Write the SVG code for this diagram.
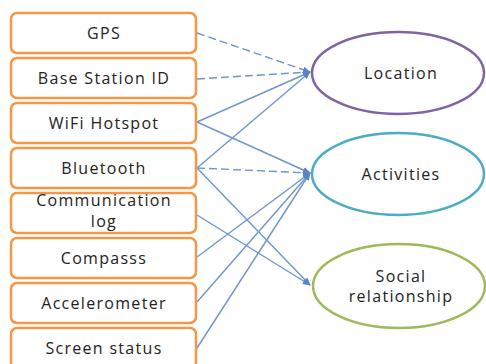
<svg xmlns="http://www.w3.org/2000/svg" width="486" height="364" viewBox="0 0 486 364">
<style>
.box{fill:#fff;stroke:#F79646;stroke-width:2.5}
.t{font-family:"Open Sans","Liberation Sans",sans-serif;font-size:16px;letter-spacing:1.3px;fill:#222;text-anchor:middle}
.c{stroke:#6E96CC;stroke-width:1.4;fill:none;marker-end:url(#ah)}
.d{stroke-dasharray:8 4}
</style>
<defs>
<marker id="ah" viewBox="0 0 10 10" refX="9" refY="5" markerWidth="8" markerHeight="8" markerUnits="userSpaceOnUse" orient="auto">
<path d="M0,1 L10,5 L0,9 Z" fill="#5B84C4"/>
</marker>
</defs>
<rect width="486" height="364" fill="#fff"/>
<g id="connectors">
<line class="c d" x1="197" y1="33" x2="310" y2="72"/>
<line class="c d" x1="197" y1="79" x2="310" y2="72"/>
<line class="c" x1="197" y1="122" x2="310" y2="72"/>
<line class="c" x1="197" y1="122" x2="310" y2="173"/>
<line class="c" x1="197" y1="168" x2="310" y2="72"/>
<line class="c d" x1="197" y1="168" x2="310" y2="173"/>
<line class="c" x1="197" y1="168" x2="310" y2="285"/>
<line class="c" x1="197" y1="215" x2="310" y2="285"/>
<line class="c" x1="197" y1="257" x2="310" y2="173"/>
<line class="c" x1="197" y1="302" x2="310" y2="173"/>
<line class="c" x1="197" y1="348" x2="310" y2="173"/>
</g>
<g id="gps"><rect class="box" x="11" y="13" width="185" height="40" rx="6"/><text class="t" x="104" y="38.5">GPS</text></g>
<g id="base"><rect class="box" x="11" y="58" width="185" height="40" rx="6"/><text class="t" x="104" y="83.5">Base Station ID</text></g>
<g id="wifi"><rect class="box" x="11" y="103" width="185" height="40" rx="6"/><text class="t" x="104" y="128.5">WiFi Hotspot</text></g>
<g id="bluetooth"><rect class="box" x="11" y="148" width="185" height="40" rx="6"/><text class="t" x="104" y="173.5">Bluetooth</text></g>
<g id="commlog"><rect class="box" x="11" y="193" width="185" height="40" rx="6"/><text class="t" x="104" y="205.5">Communication</text><text class="t" x="104" y="227">log</text></g>
<g id="compass"><rect class="box" x="11" y="238" width="185" height="40" rx="6"/><text class="t" x="104" y="263.5">Compasss</text></g>
<g id="accel"><rect class="box" x="11" y="283" width="185" height="40" rx="6"/><text class="t" x="104" y="308.5">Accelerometer</text></g>
<g id="screen"><rect class="box" x="11" y="328" width="185" height="40" rx="6"/><text class="t" x="104" y="353.5">Screen status</text></g>
<g id="location"><ellipse cx="398" cy="73" rx="86" ry="41" fill="#fff" stroke="#8064A2" stroke-width="2.5"/><text class="t" x="401" y="78.5">Location</text></g>
<g id="activities"><ellipse cx="398" cy="174" rx="86" ry="41" fill="#fff" stroke="#4BACC6" stroke-width="2.5"/><text class="t" x="401" y="179.5">Activities</text></g>
<g id="social"><ellipse cx="399" cy="286" rx="86" ry="42" fill="#fff" stroke="#9BBB59" stroke-width="2.5"/><text class="t" x="401" y="281.5">Social</text><text class="t" x="401" y="302">relationship</text></g>
</svg>
